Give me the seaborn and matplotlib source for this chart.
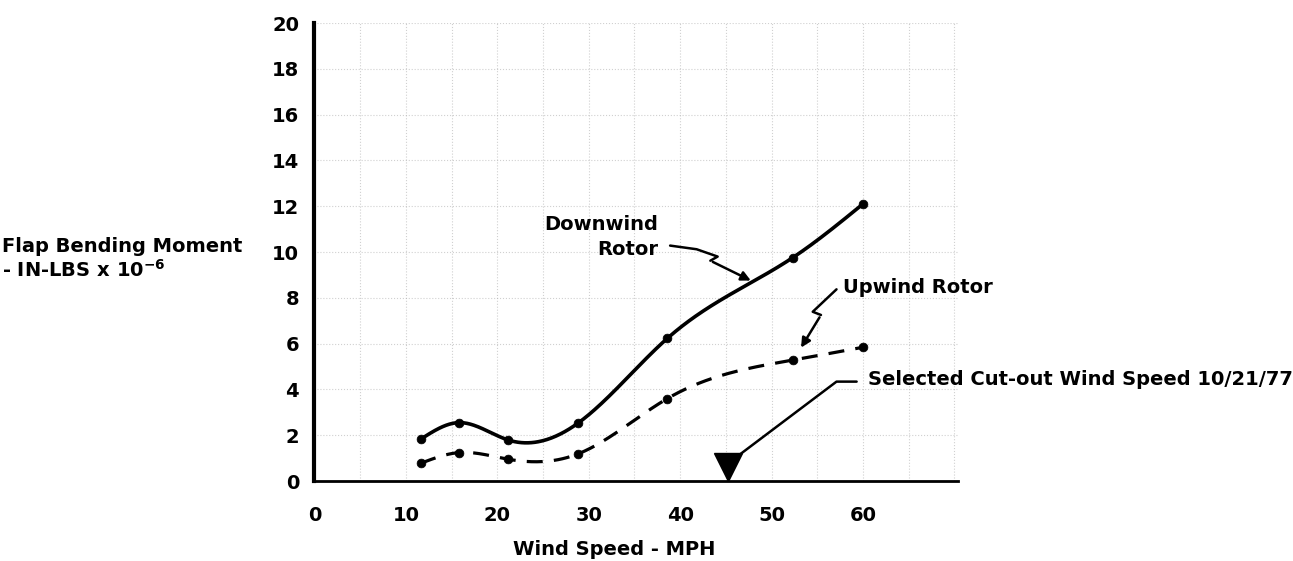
import numpy as np
import pandas as pd
import matplotlib
matplotlib.use('Agg')
import matplotlib.pyplot as plt
import seaborn as sns

# values
wind_speed = [11.6, 15.8, 21.2, 28.8, 38.6, 52.3, 60.0]
downwind_moment = [1.82, 2.55, 1.79, 2.52, 6.23, 9.75, 12.1]
upwind_moment = [0.77, 1.24, 0.95, 1.18, 3.6, 5.28, 5.84]
cutout_speed = 45.2
x_ticks = [0, 10, 20, 30, 40, 50, 60]
y_ticks = list(range(0, 21, 2))


def smooth(x, y, n=400):
    # natural cubic spline through the points, only used to draw the curve
    x = np.asarray(x, float)
    y = np.asarray(y, float)
    k = len(x)
    h = np.diff(x)
    A = np.zeros((k, k))
    b = np.zeros(k)
    A[0, 0] = A[-1, -1] = 1
    for i in range(1, k - 1):
        A[i, i - 1] = h[i - 1]
        A[i, i] = 2 * (h[i - 1] + h[i])
        A[i, i + 1] = h[i]
        b[i] = 6 * ((y[i + 1] - y[i]) / h[i] - (y[i] - y[i - 1]) / h[i - 1])
    M = np.linalg.solve(A, b)
    xs = np.linspace(x[0], x[-1], n)
    idx = np.clip(np.searchsorted(x, xs) - 1, 0, k - 2)
    x0, x1 = x[idx], x[idx + 1]
    hh = x1 - x0
    t0, t1 = x1 - xs, xs - x0
    ys = ((M[idx] * t0 ** 3 + M[idx + 1] * t1 ** 3) / (6 * hh)
          + (y[idx] / hh - M[idx] * hh / 6) * t0
          + (y[idx + 1] / hh - M[idx + 1] * hh / 6) * t1)
    return xs, ys


sns.set_theme(style="white")
plt.rcParams['font.family'] = ['DejaVu Sans']
plt.rcParams['font.weight'] = 'bold'
plt.rcParams['text.color'] = 'black'
plt.rcParams['axes.labelcolor'] = 'black'
plt.rcParams['mathtext.default'] = 'bf'

df = pd.DataFrame({'speed': wind_speed, 'down': downwind_moment, 'up': upwind_moment})

fig = plt.figure(figsize=(12.93, 5.61), dpi=100)
ax = fig.add_axes([0.2432, 0.1426, 0.4978, 0.8164])

# smooth curves
xs, ys_down = smooth(wind_speed, downwind_moment)
_, ys_up = smooth(wind_speed, upwind_moment)
sns.lineplot(x=xs, y=ys_down, ax=ax, color='black', lw=2.6)
sns.lineplot(x=xs, y=ys_up, ax=ax, color='black', lw=2.3)
ax.lines[-1].set_dashes([5, 3.5])

# measured points
sns.scatterplot(data=df, x='speed', y='down', ax=ax, color='black', s=40, edgecolor='black', zorder=5)
sns.scatterplot(data=df, x='speed', y='up', ax=ax, color='black', s=40, edgecolor='black', zorder=5)

# cut-out wind speed marker
ax.plot([cutout_speed], [0.6], marker='v', ms=20, color='black', clip_on=False, zorder=6)

ax.set_xlim(0, 70.4)
ax.set_ylim(0, 20)
ax.set_xticks(x_ticks)
ax.set_xticks(np.arange(5, 71, 5), minor=True)
ax.set_yticks(y_ticks)
ax.tick_params(axis='both', which='major', direction='in', length=4, width=1.5,
               labelsize=14, color='black', labelcolor='black')
ax.tick_params(axis='y', pad=11)
ax.tick_params(axis='x', pad=18)
ax.tick_params(axis='x', which='minor', length=0)
for lab in ax.get_xticklabels() + ax.get_yticklabels():
    lab.set_fontweight('bold')

ax.grid(True, which='both', axis='x', linestyle=':', color='#aaaaaa', lw=0.8, alpha=0.55)
ax.grid(True, which='major', axis='y', linestyle=':', color='#aaaaaa', lw=0.8, alpha=0.55)

sns.despine(ax=ax)
ax.spines['left'].set_linewidth(3)
ax.spines['bottom'].set_linewidth(2)
ax.spines['left'].set_color('black')
ax.spines['bottom'].set_color('black')

ax.set_xlabel('Wind Speed - MPH', fontsize=14, fontweight='bold', color='black')
ax.xaxis.set_label_coords(0.466, -0.128)
ax.set_ylabel('Flap Bending Moment\n- IN-LBS x 10$^{-6}$', fontsize=14, fontweight='bold',
              rotation=0, ha='left', va='center', multialignment='left', color='black')
ax.yaxis.set_label_coords(-0.4856, 0.485)

# annotations
ax.text(37.6, 10.65, 'Downwind\nRotor', ha='right', va='center', multialignment='right',
        fontsize=14, fontweight='bold', linespacing=1.35, color='black')
ax.plot([38.9, 41.8, 44.1, 43.3], [10.28, 10.12, 9.8, 9.62], color='black', lw=1.8)
ax.annotate('', xy=(48.0, 8.7), xytext=(43.3, 9.62),
            arrowprops=dict(arrowstyle='-|>', color='black', lw=1.8, mutation_scale=14))

ax.text(57.8, 8.47, 'Upwind Rotor', ha='left', va='center', fontsize=14, fontweight='bold',
        color='black')
ax.plot([57.1, 54.5, 55.4], [8.37, 7.39, 7.25], color='black', lw=1.8)
ax.annotate('', xy=(53.06, 5.72), xytext=(55.4, 7.25),
            arrowprops=dict(arrowstyle='-|>', color='black', lw=1.8, mutation_scale=14))

ax.text(60.5, 4.45, 'Selected Cut-out Wind Speed 10/21/77', ha='left', va='center',
        fontsize=14, fontweight='bold', clip_on=False, color='black')
ax.plot([59.3, 57.1, 46.0], [4.34, 4.34, 1.0], color='black', lw=1.8, clip_on=False)

fig.savefig('out.png', dpi=100)
plt.close(fig)
